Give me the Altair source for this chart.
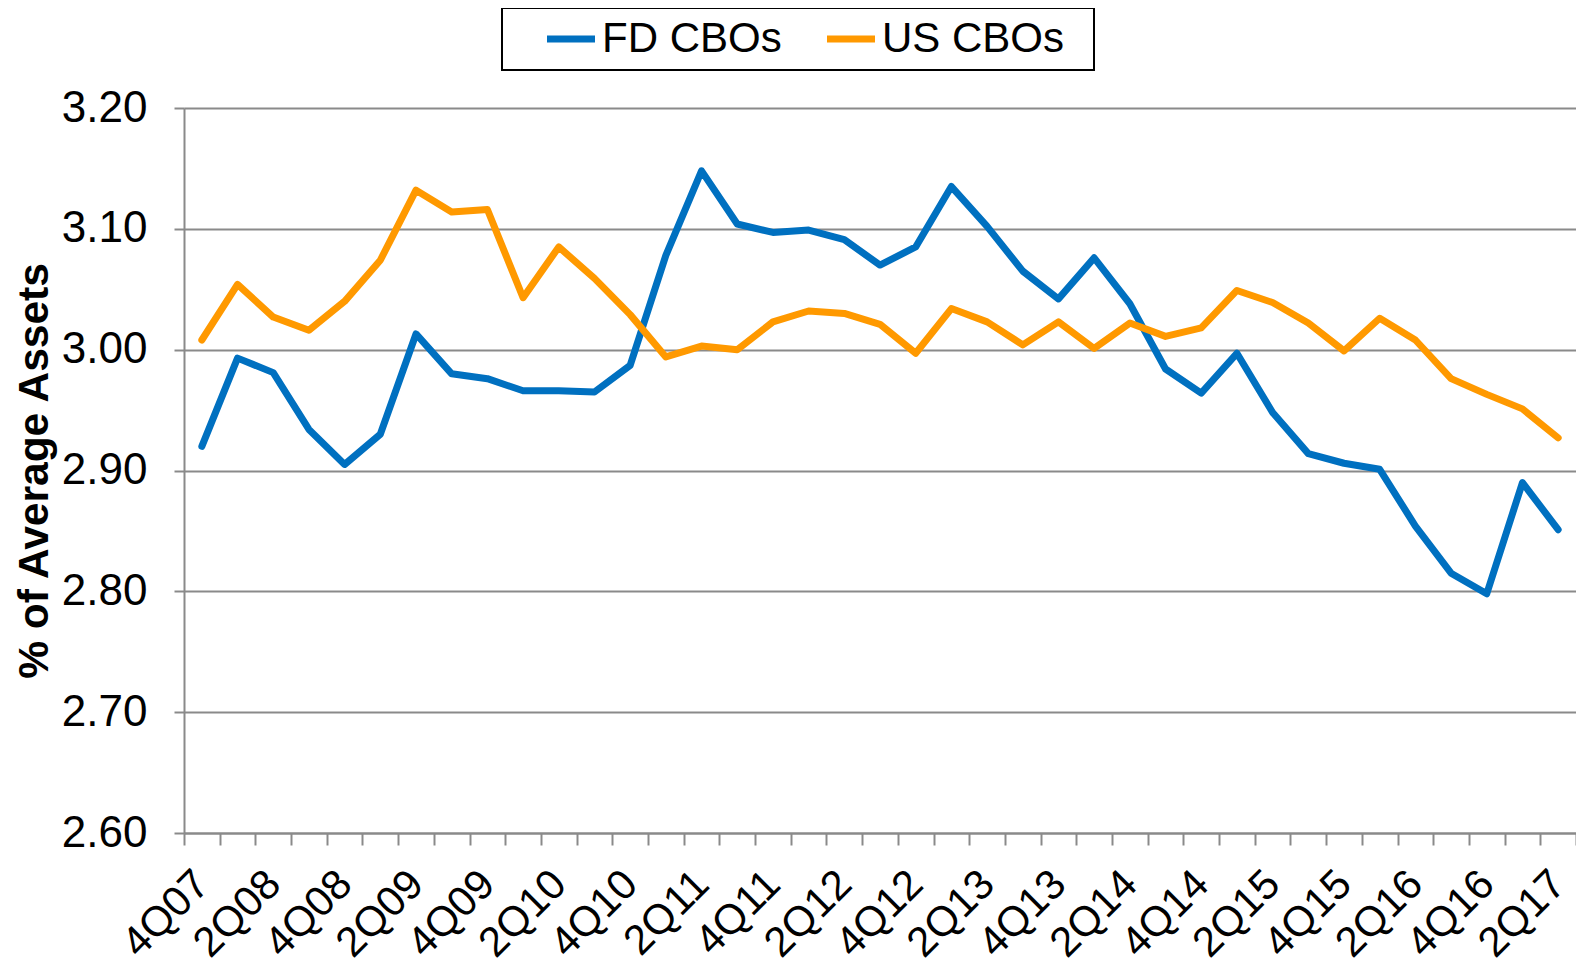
import altair as alt
import pandas as pd

quarters = ["4Q07", "1Q08", "2Q08", "3Q08", "4Q08", "1Q09", "2Q09", "3Q09", "4Q09",
            "1Q10", "2Q10", "3Q10", "4Q10", "1Q11", "2Q11", "3Q11", "4Q11",
            "1Q12", "2Q12", "3Q12", "4Q12", "1Q13", "2Q13", "3Q13", "4Q13",
            "1Q14", "2Q14", "3Q14", "4Q14", "1Q15", "2Q15", "3Q15", "4Q15",
            "1Q16", "2Q16", "3Q16", "4Q16", "1Q17", "2Q17"]

fd_cbos = [2.920, 2.993, 2.981, 2.934, 2.905, 2.930, 3.013, 2.980, 2.976,
           2.966, 2.966, 2.965, 2.987, 3.078, 3.148, 3.104, 3.097,
           3.099, 3.091, 3.070, 3.085, 3.135, 3.102, 3.065, 3.042,
           3.076, 3.038, 2.984, 2.964, 2.997, 2.948, 2.914, 2.906,
           2.901, 2.854, 2.815, 2.798, 2.890, 2.851]

us_cbos = [3.008, 3.054, 3.027, 3.016, 3.040, 3.074, 3.132, 3.114, 3.116,
           3.043, 3.085, 3.059, 3.029, 2.994, 3.003, 3.000, 3.023,
           3.032, 3.030, 3.021, 2.997, 3.034, 3.023, 3.004, 3.023,
           3.001, 3.022, 3.011, 3.018, 3.049, 3.039, 3.022, 2.999,
           3.026, 3.008, 2.976, 2.963, 2.951, 2.927]

series_names = ["FD CBOs", "US CBOs"]
series_colors = ["#0070C0", "#FF9900"]
y_ticks = [2.6, 2.7, 2.8, 2.9, 3.0, 3.1, 3.2]

df = pd.DataFrame({
    "quarter": quarters * 2,
    "value": fd_cbos + us_cbos,
    "series": [series_names[0]] * len(quarters) + [series_names[1]] * len(quarters),
})

FONT = "Liberation Sans, Arial, sans-serif"
GREY = "#8A8A8A"

chart = alt.Chart(df).mark_line(strokeWidth=7, strokeJoin="round", strokeCap="round").encode(
    x=alt.X(
        "quarter:N",
        sort=quarters,
        bandPosition=0.5,
        scale=alt.Scale(type="band", paddingInner=0, paddingOuter=0),
        axis=alt.Axis(
            title=None,
            labelAngle=-45,
            labelAlign="right",
            labelBaseline="middle",
            labelPadding=32,
            labelFontSize=42,
            labelFont=FONT,
            labelColor="black",
            labelOverlap=False,
            labelExpr="(substring(datum.label,0,1) == '2' || substring(datum.label,0,1) == '4') ? datum.label : ''",
            tickBand="extent",
            tickSize=12,
            tickWidth=2,
            tickColor=GREY,
            domainColor=GREY,
            domainWidth=2,
            grid=False,
        ),
    ),
    y=alt.Y(
        "value:Q",
        scale=alt.Scale(domain=[2.6, 3.2], nice=False, zero=False),
        axis=alt.Axis(
            values=y_ticks,
            format=".2f",
            title="% of Average Assets",
            titleFont=FONT,
            titleFontSize=42.5,
            titleFontWeight="bold",
            titleColor="black",
            titleAngle=270,
            titleAlign="center",
            titleBaseline="middle",
            titleX=-150,
            titleY=362.5,
            labelFontSize=44,
            labelFont=FONT,
            labelColor="black",
            labelPadding=27,
            tickSize=10,
            tickWidth=2,
            tickColor=GREY,
            domainColor=GREY,
            domainWidth=2,
            grid=True,
            gridColor=GREY,
            gridWidth=2,
        ),
    ),
    color=alt.Color(
        "series:N",
        scale=alt.Scale(domain=series_names, range=series_colors),
        legend=alt.Legend(
            title=" ",
            titleOrient="right",
            titleFontSize=1,
            titlePadding=20,
            orient="none",
            legendX=318,
            legendY=-100,
            direction="horizontal",
            symbolType="M-2,0H2",
            symbolSize=576,
            symbolStrokeWidth=7,
            symbolOffset=38,
            labelOffset=10,
            labelFontSize=42,
            labelFont=FONT,
            labelColor="black",
            labelLimit=400,
            columnPadding=10,
            padding=10,
            strokeColor="black",
            fillColor="white",
        ),
    ),
).properties(
    width=1392,
    height=725,
    autosize=alt.AutoSizeParams(type="none"),
    padding={"left": 176, "top": 100, "right": 0, "bottom": 128},
    background="white",
).configure_view(
    stroke=None
).configure_legend(
    strokeWidth=2
)

chart.save("out.html", embed_options={"renderer": "svg", "actions": False})
